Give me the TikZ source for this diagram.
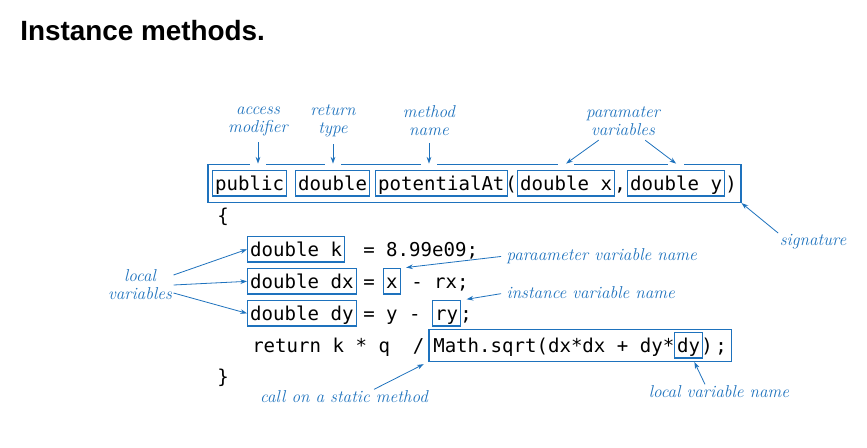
\documentclass[tikz,border=0pt]{standalone}
\usepackage{fontspec}
\newfontfamily\codefont{DejaVu Sans Mono}
\newfontfamily\headfont{Liberation Sans}
\usetikzlibrary{arrows.meta,calc,fit}
\definecolor{cblue}{RGB}{30,114,189}
\begin{document}
\begin{tikzpicture}[x=0.75pt,y=-0.75pt,>={Stealth[length=5pt,width=3.5pt]}]
\tikzstyle{code}=[inner sep=0pt, anchor=base west, font=\codefont\fontsize{14.3}{16}\selectfont]
\tikzstyle{cbox}=[code, draw=cblue, line width=0.8pt, inner xsep=2pt, inner ysep=2.5pt, text height=12pt, text depth=2pt]
\tikzstyle{lbl}=[cblue, inner sep=1pt, align=center, font=\fontsize{12.9}{13.5}\selectfont\itshape]
\tikzstyle{pointer}=[cblue, line width=0.6pt, ->]
\useasboundingbox (0,0) rectangle (867,447);

\node[anchor=base west, inner sep=0pt, font=\headfont\fontsize{20.9}{24}\selectfont\bfseries] (title) at (20,40) {Instance methods.};

\node[cbox] (pub) at (212,190) {public};
\node[cbox] (dbl) at (295,190) {double};
\node[cbox] (pot) at (375,190) {potentialAt};
\node[code] (lp)  at (505,190) {(};
\node[cbox] (px)  at (517,190) {double x};
\node[code] (cm)  at (614,190) {,};
\node[cbox] (py)  at (627,190) {double y};
\node[code] (rp)  at (725,190) {)};
\node[draw=cblue, line width=0.8pt, inner xsep=3pt, inner ysep=4.5pt, fit=(pub) (rp)] (sig) {};

\node[code] (lb)  at (217,222) {\{};
\node[cbox] (kb)  at (247,256) {double k\ };
\node[code] (kv)  at (363,256) {= 8.99e09;};
\node[cbox] (dxb) at (247,288) {double dx};
\node[code] (dxe) at (363,288) {=};
\node[cbox] (xb)  at (383,288) {x};
\node[code] (dxr) at (411,288) {- rx;};
\node[cbox] (dyb) at (247,320) {double dy};
\node[code] (dye) at (363,320) {= y -};
\node[cbox] (ryb) at (432,320) {ry};
\node[code] (dyr) at (460,320) {;};
\node[code] (rtn) at (252,352) {return k * q\ \ /};
\node[code] (mt)  at (433,352) {Math.sqrt(dx*dx + dy*};
\node[cbox] (ldy) at (674,352) {dy};
\node[code] (me)  at (701,352) {)\hspace{2pt};};
\node[draw=cblue, line width=0.8pt, inner xsep=3pt, inner ysep=2pt, fit=(mt) (ldy) (me)] (mb) {};
\node[code] (rb)  at (217,383) {\}};

\node[lbl] (acc)  at (258,121) {access\\modifier};
\node[lbl] (rtp)  at (333,121) {return\\type};
\node[lbl] (mnm)  at (429,121) {method\\name};
\node[lbl] (pvar) at (623,121) {paramater\\variables};
\node[lbl] (sgn)  at (813,242) {signature};
\node[lbl] (lvar) at (140,285) {local\\variables};
\node[lbl, anchor=west] (ppn) at (505,256) {paraameter variable name};
\node[lbl, anchor=west] (ivn) at (505,293) {instance variable name};
\node[lbl] (csm)  at (344,397) {call on a static method};
\node[lbl] (lvn)  at (719,392) {local variable name};

\foreach \n in {acc,rtp,mnm,px,py}
  \fill[white] ($(\n |- sig.north)+(-8,-2)$) rectangle ($(\n |- sig.north)+(8,2)$);

\draw[pointer, shorten <=4pt] (acc) -- (acc |- sig.north);
\draw[pointer, shorten <=4pt] (rtp) -- (rtp |- sig.north);
\draw[pointer, shorten <=4pt] (mnm) -- (mnm |- sig.north);
\draw[pointer, shorten <=4pt] ($(pvar.south)+(-20,0)$) -- (px |- sig.north);
\draw[pointer, shorten <=4pt] ($(pvar.south)+(18,0)$) -- (py |- sig.north);
\draw[pointer] (sgn.north west) -- (sig.south east);
\draw[pointer] ($(lvar.east)+(0,-10)$) -- (kb.west);
\draw[pointer] (lvar.east) -- (dxb.west);
\draw[pointer] ($(lvar.east)+(0,8)$) -- (dyb.west);
\draw[pointer, shorten <=3pt, shorten >=4pt] (ppn.west) -- (xb.north east);
\draw[pointer, shorten <=3pt, shorten >=4pt] (ivn.west) -- (ryb.north east);
\draw[pointer, shorten >=4pt] ($(csm.north)+(30,0)$) -- (mb.south west);
\draw[pointer, shorten >=3pt] ($(lvn.north)+(-14,0)$) -- ($(ldy.south)+(4,0)$);
\end{tikzpicture}
\end{document}
